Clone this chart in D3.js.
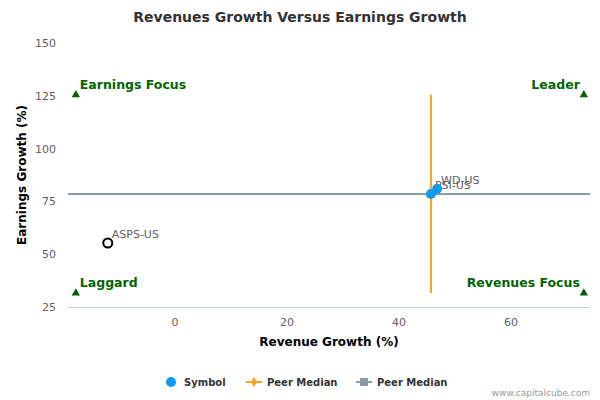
<!DOCTYPE html><html><head><meta charset="utf-8"><script src="https://cdn.jsdelivr.net/npm/d3@7"></script>
<style>body{margin:0;background:#fff;font-family:"DejaVu Sans",sans-serif}</style></head><body><svg id="c" width="600" height="400"></svg><script>
const symbols=["ASPS-US","PSI-US","WD-US"];
const revenueGrowth=[-12,45.7,46.8];
const earningsGrowth=[55.3,78.5,81];
const hollow=[true,false,false];
const peerMedianX=45.7, peerMedianY=78.5;
const medianXRange=[31.6,125.5];
const xTicks=[0,20,40,60], yTicks=[25,50,75,100,125,150];
const quadrants=[{t:"Earnings Focus",x:-17.7,y:125.5,a:"start"},{t:"Leader",x:73,y:125.5,a:"end"},{t:"Laggard",x:-17.7,y:31.6,a:"start"},{t:"Revenues Focus",x:73,y:31.6,a:"end"}];
const svg=d3.select("#c");
const x=d3.scaleLinear().domain([-19.1,74.1]).range([68,590]);
const y=d3.scaleLinear().domain([25,150]).range([307,43]);
svg.append("text").attr("x",300).attr("y",22).attr("text-anchor","middle").attr("font-size",14).attr("font-weight","bold").attr("fill","#333").text("Revenues Growth Versus Earnings Growth");
svg.append("line").attr("x1",68).attr("x2",590).attr("y1",307.5).attr("y2",307.5).attr("stroke","#c0d0e0");
xTicks.forEach(t=>svg.append("text").attr("x",x(t)).attr("y",326).attr("text-anchor","middle").attr("font-size",11).attr("fill","#606060").text(t));
yTicks.forEach(t=>svg.append("text").attr("x",56).attr("y",y(t)+4).attr("text-anchor","end").attr("font-size",11).attr("fill","#606060").text(t));
svg.append("text").attr("x",329).attr("y",346).attr("text-anchor","middle").attr("font-size",12).attr("font-weight","bold").attr("fill","#000").text("Revenue Growth (%)");
svg.append("text").attr("transform","translate(26,175) rotate(-90)").attr("text-anchor","middle").attr("font-size",12).attr("font-weight","bold").attr("fill","#000").text("Earnings Growth (%)");
svg.append("line").attr("x1",68).attr("x2",590).attr("y1",y(peerMedianY)).attr("y2",y(peerMedianY)).attr("stroke","#8e99a8").attr("stroke-width",2);
svg.append("line").attr("x1",x(peerMedianX)).attr("x2",x(peerMedianX)).attr("y1",y(medianXRange[0])).attr("y2",y(medianXRange[1])).attr("stroke","#f7a21b").attr("stroke-width",2);
quadrants.forEach(q=>{
 svg.append("path").attr("d",d3.symbol(d3.symbolTriangle,30)()).attr("transform",`translate(${x(q.x)},${y(q.y)})`).attr("fill","#006400");
 svg.append("text").attr("x",x(q.x)+(q.a=="start"?4:-4)).attr("y",y(q.y)-6).attr("text-anchor",q.a).attr("font-size",12.5).attr("font-weight","bold").attr("fill","#006400").text(q.t);
});
symbols.forEach((s,i)=>{
 svg.append("circle").attr("cx",x(revenueGrowth[i])).attr("cy",y(earningsGrowth[i])).attr("r",hollow[i]?4.5:5).attr("fill",hollow[i]?"#fff":"#0d9bf0").attr("stroke",hollow[i]?"#000":"none").attr("stroke-width",2);
 svg.append("text").attr("x",x(revenueGrowth[i])+4).attr("y",y(earningsGrowth[i])-5).attr("font-size",11).attr("fill","#606060").text(s);
});
const lg=svg.append("g").attr("font-size",10).attr("font-weight","bold").attr("fill","#333");
lg.append("circle").attr("cx",171).attr("cy",382).attr("r",5).attr("fill","#0d9bf0");
lg.append("text").attr("x",184).attr("y",385.5).text("Symbol");
lg.append("line").attr("x1",246).attr("x2",262).attr("y1",382).attr("y2",382).attr("stroke","#f7a21b").attr("stroke-width",2);
lg.append("path").attr("d",d3.symbol(d3.symbolDiamond,30)()).attr("transform","translate(254,382)").attr("fill","#f7a21b");
lg.append("text").attr("x",267).attr("y",385.5).text("Peer Median");
lg.append("line").attr("x1",356).attr("x2",372).attr("y1",382).attr("y2",382).attr("stroke","#8e99a8").attr("stroke-width",2);
lg.append("rect").attr("x",360).attr("y",378).attr("width",8).attr("height",8).attr("fill","#8e99a8");
lg.append("text").attr("x",377).attr("y",385.5).text("Peer Median");
svg.append("text").attr("x",590).attr("y",396).attr("text-anchor","end").attr("font-size",9).attr("fill","#999").text("www.capitalcube.com");
</script></body></html>
